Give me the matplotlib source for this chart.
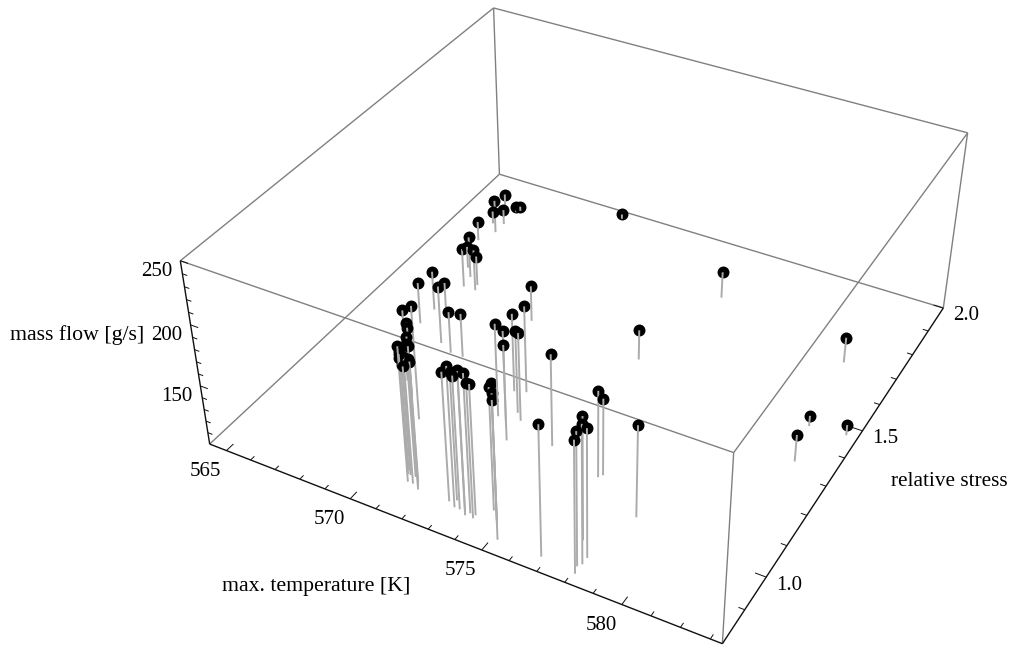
import numpy as np
import matplotlib
matplotlib.use('Agg')
from matplotlib import pyplot as plt

plt.rcParams['font.family'] = ['Liberation Serif', 'DejaVu Serif']

temperature = [565.7,566.3,565.9,566.3,566.3,566.4,566.0,567.0,567.1,566.6,567.6,567.5,566.9,566.9,568.2,567.2,
               569.8,568.3,569.0,568.9,569.3,571.3,570.8,571.6,570.9,571.7,571.1,571.4,571.0,571.5,571.2,571.0,
               572.9,573.2,573.1,573.7,573.6,573.8,574.0,573.4,574.0,574.7,574.4,574.8,575.2,572.1,572.6,571.9,
               572.6,572.9,572.3,570.4,573.0,568.8,569.3,574.5,576.8,577.6,578.1,578.1,578.0,578.1,576.6,576.7,
               578.6,574.9,575.9,570.2,581.4,581.7,582.0,583.0]
stress = [1.88,1.77,1.80,1.81,1.87,1.88,1.72,1.58,1.54,1.61,1.54,1.56,1.43,1.37,1.33,1.45,
          1.08,1.18,1.13,1.14,1.10,0.92,0.94,0.90,0.93,0.89,0.92,0.90,0.92,0.91,0.90,0.93,
          0.89,0.88,0.90,0.87,0.88,0.88,0.87,0.88,0.88,0.89,0.91,0.88,0.84,1.17,1.15,1.26,
          1.20,1.18,1.27,1.50,1.11,1.31,1.31,1.14,0.84,0.92,0.86,0.88,0.85,0.83,1.10,1.11,
          1.03,1.49,1.79,1.97,1.70,1.46,1.34,1.47]
mass_flow = [111,129,111,113,105,104,117,136,134,119,136,126,134,136,150,122,
             196,161,166,159,163,210,197,215,194,208,192,205,200,200,212,188,
             207,216,206,219,215,215,211,210,208,212,202,207,214,179,181,167,
             170,175,174,131,181,136,138,178,208,202,214,206,210,209,173,165,
             177,126,123,104,122,109,123,109]

T_ticks = np.arange(565, 584)
S_ticks = np.arange(0.9, 2.01, 0.1)
M_ticks = np.arange(110, 251, 10)
T_labels = [565, 570, 575, 580]
S_labels = [1.0, 1.5, 2.0]
M_labels = [150, 200, 250]

T0, T1, S0, S1, M0, M1 = 564.3, 583.4, 0.8, 2.0, 100, 250

# box corners on the image, used to fit the camera
corners = [((T0,S0,M0),(210,444)), ((T1,S0,M0),(723,644)), ((T1,S1,M0),(943,308)), ((T0,S1,M0),(499,174)),
           ((T0,S0,M1),(180,261)), ((T1,S0,M1),(733,452)), ((T1,S1,M1),(968,133)), ((T0,S1,M1),(494,8))]

def unit(t, s, m):
    return [(t-T0)/(T1-T0), (s-S0)/(S1-S0), (m-M0)/(M1-M0), 1]

A = []
for p, q in corners:
    X = unit(*p)
    A.append(X + [0]*4 + [-q[0]*c for c in X])
    A.append([0]*4 + X + [-q[1]*c for c in X])
cam = np.linalg.svd(np.array(A))[2][-1].reshape(3, 4)

def project(t, s, m):
    h = cam @ np.array(unit(t, s, m))
    return h[0]/h[2], h[1]/h[2]

def line3d(ax, a, b, **kw):
    pa, pb = project(*a), project(*b)
    ax.plot([pa[0], pb[0]], [pa[1], pb[1]], solid_capstyle='butt', **kw)

fig = plt.figure(figsize=(10.13, 6.47), dpi=100)
ax = fig.add_axes([0, 0, 1, 1])
ax.set_xlim(0, 1013)
ax.set_ylim(647, 0)
ax.axis('off')

##### box edges
gray = dict(color='#808080', lw=1.0, zorder=1)
black = dict(color='#101010', lw=1.0, zorder=1)
line3d(ax, (T0,S0,M0), (T0,S1,M0), **gray)
line3d(ax, (T0,S1,M0), (T1,S1,M0), **gray)
line3d(ax, (T0,S0,M1), (T1,S0,M1), **gray)
line3d(ax, (T1,S0,M1), (T1,S1,M1), **gray)
line3d(ax, (T1,S1,M1), (T0,S1,M1), **gray)
line3d(ax, (T0,S1,M1), (T0,S0,M1), **gray)
line3d(ax, (T1,S0,M0), (T1,S0,M1), **gray)
line3d(ax, (T1,S1,M0), (T1,S1,M1), **gray)
line3d(ax, (T0,S1,M0), (T0,S1,M1), **gray)
line3d(ax, (T0,S0,M0), (T1,S0,M0), **black)
line3d(ax, (T1,S0,M0), (T1,S1,M0), **black)
line3d(ax, (T0,S0,M0), (T0,S0,M1), **black)

##### ticks
tick = dict(color='#101010', lw=0.7, zorder=1)
for t in T_ticks:
    d = 0.02 if t in T_labels else 0.011
    line3d(ax, (t,S0,M0), (t,S0+d*(S1-S0),M0), **tick)
for s in S_ticks:
    d = 0.02 if min(abs(s-v) for v in S_labels) < 1e-6 else 0.011
    line3d(ax, (T1,s,M0), (T1-d*(T1-T0),s,M0), **tick)
for m in M_ticks:
    d = 0.016 if m in M_labels else 0.01
    line3d(ax, (T0,S0,m), (T0+d*(T1-T0),S0,m), **tick)

##### tick labels
fs = 15
for t in T_labels:
    x, y = project(t, S0, M0)
    ax.text(x-21, y+21, str(t), fontsize=fs, ha='center', va='center')
for s in S_labels:
    x, y = project(T1, s, M0)
    ax.text(x+10, y+8, '%.1f' % s, fontsize=fs, ha='left', va='center')
for m in M_labels:
    x, y = project(T0, S0, m)
    ax.text(x-8, y+11, str(m), fontsize=fs, ha='right', va='center')

ax.text(10, 335, 'mass flow [g/s]', fontsize=15.7, ha='left', va='center')
ax.text(222, 586, 'max. temperature [K]', fontsize=15.7, ha='left', va='center')
ax.text(891, 481, 'relative stress', fontsize=15.3, ha='left', va='center')

##### points with drop lines to the floor
for i, (t, s, m) in enumerate(zip(temperature, stress, mass_flow)):
    x, y = project(t, s, m)
    ax.plot([x], [y], 'o', color='black', ms=8.6, mew=0, zorder=2+2*i)
    line3d(ax, (t,s,m), (t,s,M0), color='#ababab', lw=1.4, zorder=3+2*i)

fig.savefig('out.png', dpi=100)
